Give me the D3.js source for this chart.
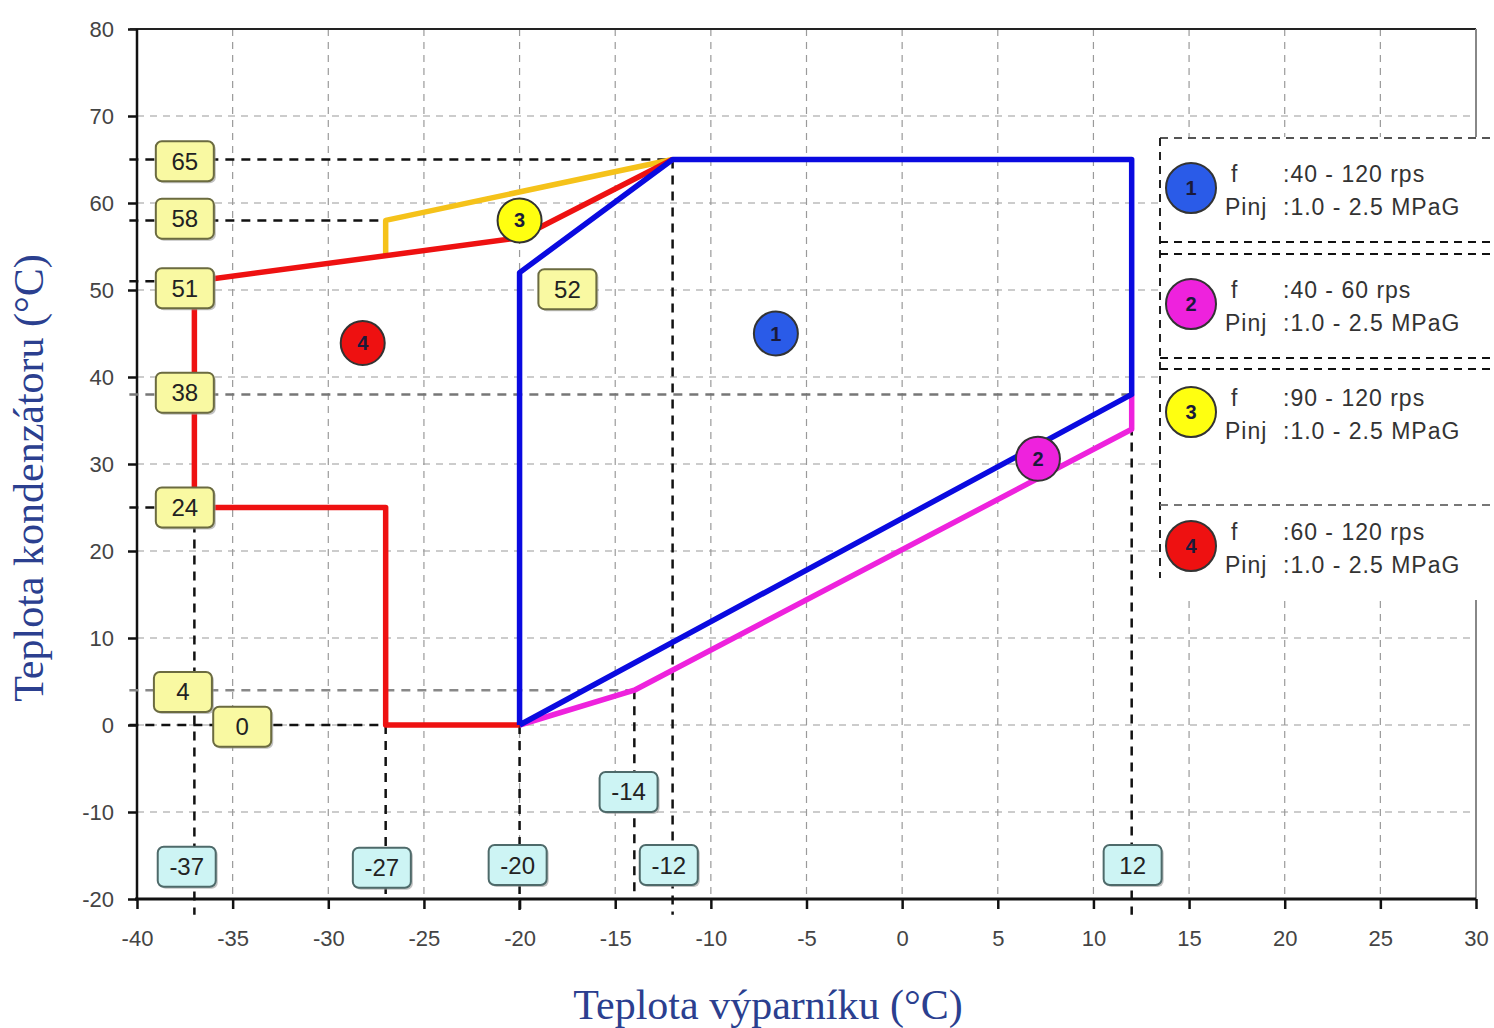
<!DOCTYPE html>
<html>
<head>
<meta charset="utf-8">
<script src="https://cdn.jsdelivr.net/npm/d3@7"></script>
<style>
  body { margin: 0; background: #fff; }
  svg { display: block; }
</style>
</head>
<body>
<div id="chart"></div>
<script>
// envelope data, [evaporating temp, condensing temp]
const zone1 = [[-20, 0], [-20, 52], [-12, 65], [12, 65], [12, 38], [-20, 0]];
const zone2 = [[-20, 0], [-14, 4], [12, 34], [12, 38]];
const zone3 = [[-27, 54], [-27, 58], [-12, 65]];
const zone4 = [[-37, 51], [-20, 56], [-12, 65]];
const zone4low = [[-37, 51], [-37, 25], [-27, 25], [-27, 0], [-20, 0]];

// zone markers (number + position)
const zoneIds = ["1", "2", "3", "4"];
const zoneMarkX = [-6.6, 7.1, -20, -28.2];
const zoneMarkY = [45, 30.6, 58, 43.9];
const zoneColors = ["#2a5be8", "#ee22dd", "#ffff10", "#ee1111"];

// value callouts
const yTagText = ["65", "58", "51", "38", "24", "4", "0", "52"];
const yTagX = [-37.5, -37.5, -37.5, -37.5, -37.5, -37.6, -34.5, -17.5];
const yTagY = [64.8, 58.2, 50.2, 38.2, 25, 3.8, -0.2, 50.1];
const xTagText = ["-37", "-27", "-20", "-14", "-12", "12"];
const xTagX = [-37.4, -27.2, -20.1, -14.3, -12.2, 12.05];
const xTagY = [-16.3, -16.4, -16.1, -7.7, -16.1, -16.1];

// legend text
const legendF = ["40 - 120 rps", "40 - 60 rps", "90 - 120 rps", "60 - 120 rps"];
const legendP = ["1.0 - 2.5 MPaG", "1.0 - 2.5 MPaG", "1.0 - 2.5 MPaG", "1.0 - 2.5 MPaG"];

const xTicks = d3.range(-40, 31, 5);
const yTicks = d3.range(-20, 81, 10);

//sizing
const W = 1494, H = 1028;
const plot = {left: 137, right: 1476, top: 29, bottom: 899};

const svg = d3.select("#chart").append("svg")
    .attr("width", W).attr("height", H);

const x = d3.scaleLinear().domain([-40, 30]).range([plot.left, plot.right]);
const y = d3.scaleLinear().domain([-20, 80]).range([plot.bottom, plot.top]);
const line = d3.line().x(d => x(d[0])).y(d => y(d[1]));

const tickFont = "'Liberation Sans', Arial, sans-serif";

// grid
svg.append("g").selectAll("line").data(xTicks.filter(d => d > -40 && d < 30)).enter()
    .append("line")
    .attr("x1", d => x(d)).attr("x2", d => x(d))
    .attr("y1", plot.top).attr("y2", plot.bottom)
    .attr("stroke", "#9a9a9a").attr("stroke-width", 1.2)
    .attr("stroke-dasharray", "7,6");
svg.append("g").selectAll("line").data(yTicks.filter(d => d > -20 && d < 80)).enter()
    .append("line")
    .attr("x1", plot.left).attr("x2", plot.right)
    .attr("y1", d => y(d)).attr("y2", d => y(d))
    .attr("stroke", "#9a9a9a").attr("stroke-width", 1.2)
    .attr("stroke-dasharray", "7,6");

// axes (plain hyphen for negatives, like the original)
const yAxis = svg.append("g")
    .attr("transform", `translate(${plot.left},0)`)
    .call(d3.axisLeft(y).tickValues(yTicks).tickSize(9).tickPadding(14)
        .tickFormat(d => String(d)));
const xAxis = svg.append("g")
    .attr("transform", `translate(0,${plot.bottom})`)
    .call(d3.axisBottom(x).tickValues(xTicks).tickSize(10).tickPadding(21)
        .tickFormat(d => String(d)));
[yAxis, xAxis].forEach(a => {
    a.select(".domain").remove();
    a.selectAll("line").attr("stroke", "#111").attr("stroke-width", 2.5);
    a.selectAll("text").attr("fill", "#444")
        .style("font-family", tickFont).style("font-size", "22px");
});

// frame
svg.append("line").attr("x1", plot.left - 7).attr("x2", plot.right)
    .attr("y1", plot.top).attr("y2", plot.top).attr("stroke", "#222").attr("stroke-width", 2);
svg.append("line").attr("x1", plot.right).attr("x2", plot.right)
    .attr("y1", plot.top).attr("y2", plot.bottom).attr("stroke", "#888").attr("stroke-width", 2);
svg.append("line").attr("x1", plot.left).attr("x2", plot.left)
    .attr("y1", plot.top).attr("y2", plot.bottom + 1).attr("stroke", "#111").attr("stroke-width", 2.5);
svg.append("line").attr("x1", plot.left - 2).attr("x2", plot.right)
    .attr("y1", plot.bottom).attr("y2", plot.bottom).attr("stroke", "#111").attr("stroke-width", 3);

// reference dashed lines
const refs = [
    [[-40.4, 65], [-12, 65], "#111"],
    [[-40.4, 58], [-27, 58], "#111"],
    [[-40.4, 51], [-37, 51], "#111"],
    [[-40.4, 25], [-37, 25], "#111"],
    [[-40.4, 0], [-27, 0], "#111"],
    [[-40.4, 38], [12, 38], "#777"],
    [[-40.4, 4], [-14, 4], "#888"],
    [[-37, 25], [-37, -21.8], "#111"],
    [[-27, 0], [-27, -20], "#111"],
    [[-20, 0], [-20, -21.8], "#111"],
    [[-14, 4], [-14, -20], "#111"],
    [[-12, 65], [-12, -21.8], "#111"],
    [[12, 38], [12, -21.8], "#111"]
];
svg.append("g").selectAll("line").data(refs).enter().append("line")
    .attr("x1", d => x(d[0][0])).attr("y1", d => y(d[0][1]))
    .attr("x2", d => x(d[1][0])).attr("y2", d => y(d[1][1]))
    .attr("stroke", d => d[2]).attr("stroke-width", 2.5)
    .attr("stroke-dasharray", "9,7");

// envelopes
const series = [
    [zone3, "#f5c21a"],
    [zone2, "#ee22dd"],
    [zone4, "#ee1111"],
    [zone4low, "#ee1111"],
    [zone1, "#0a0ae0"]
];
svg.append("g").selectAll("path").data(series).enter().append("path")
    .attr("d", d => line(d[0]))
    .attr("fill", "none")
    .attr("stroke", d => d[1])
    .attr("stroke-width", 5.5)
    .attr("stroke-linejoin", "round");

// callout boxes
function tag(g, text, cx, cy, fill, stroke) {
    const bw = 58, bh = 40;
    g.append("rect").attr("x", cx - bw / 2 + 2).attr("y", cy - bh / 2 + 2)
        .attr("width", bw).attr("height", bh).attr("rx", 6)
        .attr("fill", "#999").attr("opacity", 0.6);
    g.append("rect").attr("x", cx - bw / 2).attr("y", cy - bh / 2)
        .attr("width", bw).attr("height", bh).attr("rx", 6)
        .attr("fill", fill).attr("stroke", stroke).attr("stroke-width", 2);
    g.append("text").attr("x", cx).attr("y", cy)
        .attr("text-anchor", "middle").attr("dominant-baseline", "central")
        .attr("fill", "#222")
        .style("font-family", tickFont).style("font-size", "24px")
        .text(text);
}
const tags = svg.append("g");
yTagText.forEach((t, i) => tag(tags, t, x(yTagX[i]), y(yTagY[i]), "#f9f9a2", "#6b6b40"));
xTagText.forEach((t, i) => tag(tags, t, x(xTagX[i]), y(xTagY[i]), "#cdf4f4", "#4e6a6a"));

// zone markers
function marker(g, id, cx, cy, color, r) {
    g.append("circle").attr("cx", cx).attr("cy", cy).attr("r", r)
        .attr("fill", color).attr("stroke", "#333").attr("stroke-width", 2);
    g.append("text").attr("x", cx).attr("y", cy)
        .attr("text-anchor", "middle").attr("dominant-baseline", "central")
        .attr("fill", "#1a1a3a").style("font-weight", "bold")
        .style("font-family", tickFont).style("font-size", "20px")
        .text(id);
}
const marks = svg.append("g");
zoneIds.forEach((id, i) => marker(marks, id, x(zoneMarkX[i]), y(zoneMarkY[i]), zoneColors[i], 22));

// legend
const lg = svg.append("g");
lg.append("rect").attr("x", 1159).attr("y", 137).attr("width", W - 1159).attr("height", 463)
    .attr("fill", "#fff");
const dash = (x1, y1, x2, y2, c) => lg.append("line")
    .attr("x1", x1).attr("y1", y1).attr("x2", x2).attr("y2", y2)
    .attr("stroke", c).attr("stroke-width", 2).attr("stroke-dasharray", "8,6");
dash(1160, 138, W, 138, "#555");
dash(1160, 138, 1160, 578, "#222");
dash(1160, 242, W, 242, "#111");
dash(1160, 254, W, 254, "#111");
dash(1160, 358, W, 358, "#111");
dash(1160, 369, W, 369, "#111");
dash(1160, 505, W, 505, "#777");

const rowY = [188, 304, 412, 546];
zoneIds.forEach((id, i) => {
    marker(lg, id, 1191, rowY[i], zoneColors[i], 25);
    const t = lg.append("g").style("font-family", tickFont).style("font-size", "23px")
        .attr("fill", "#333").style("letter-spacing", "1px");
    t.append("text").attr("x", 1231).attr("y", rowY[i] - 6).text("f");
    t.append("text").attr("x", 1283).attr("y", rowY[i] - 6).text(":" + legendF[i]);
    t.append("text").attr("x", 1225).attr("y", rowY[i] + 27).text("Pinj");
    t.append("text").attr("x", 1283).attr("y", rowY[i] + 27).text(":" + legendP[i]);
});

// axis titles
svg.append("text")
    .attr("transform", `translate(43,478) rotate(-90)`)
    .attr("text-anchor", "middle")
    .attr("fill", "#2b3f8f")
    .style("font-family", "'Liberation Serif', 'Times New Roman', serif")
    .style("font-size", "42px")
    .text("Teplota kondenzátoru (°C)");
svg.append("text")
    .attr("x", 768).attr("y", 1019)
    .attr("text-anchor", "middle")
    .attr("fill", "#2b3f8f")
    .style("font-family", "'Liberation Serif', 'Times New Roman', serif")
    .style("font-size", "42px")
    .text("Teplota výparníku (°C)");
</script>
</body>
</html>
